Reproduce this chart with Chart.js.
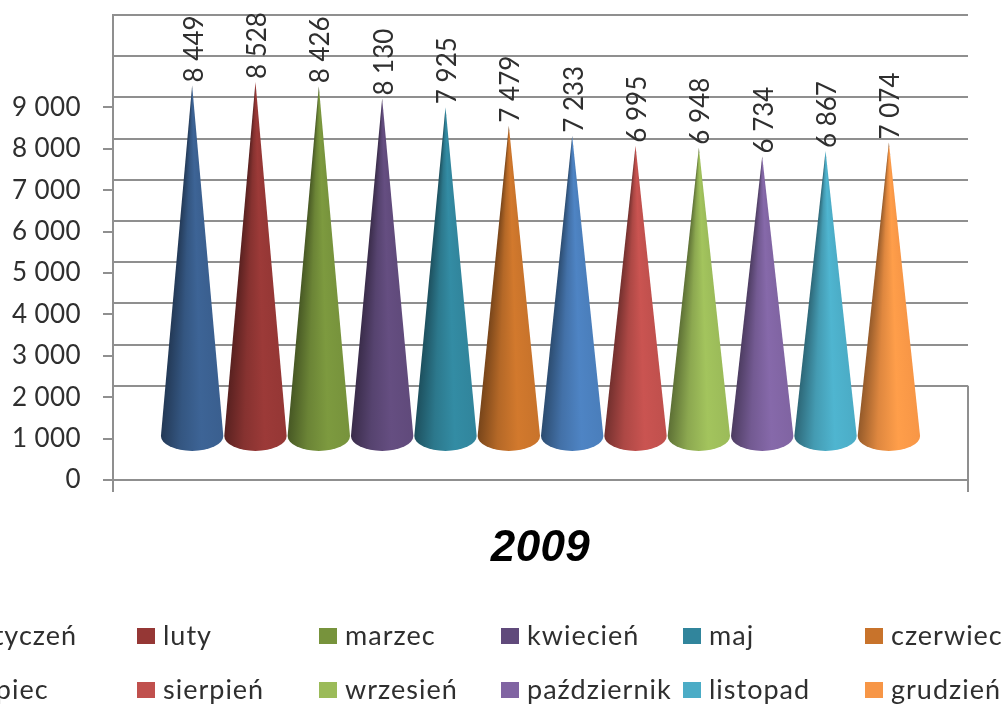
<!DOCTYPE html>
<html lang="pl">
<head>
<meta charset="utf-8">
<title>2009</title>
<script src="https://cdn.jsdelivr.net/npm/chart.js@4"></script>
<style>
  html, body { margin: 0; background: #fff; overflow: hidden; }
  canvas { display: block; filter: blur(0.5px); }
</style>
</head>
<body>
<canvas id="chart" width="1003" height="704"></canvas>
<script>
const categories = ['2009'];
const months = ['styczeń', 'luty', 'marzec', 'kwiecień', 'maj', 'czerwiec', 'lipiec', 'sierpień', 'wrzesień', 'październik', 'listopad', 'grudzień'];
const values = [8449, 8528, 8426, 8130, 7925, 7479, 7233, 6995, 6948, 6734, 6867, 7074];
const colors = ['#3a5f8f', '#953735', '#77933c', '#604a7b', '#31859c', '#c8732b', '#4a7ebb', '#c0504d', '#9bbb59', '#8064a2', '#4bacc6', '#f79646'];
const yTicks = [0, 1000, 2000, 3000, 4000, 5000, 6000, 7000, 8000, 9000];

const LINE = '#8f8f8f';
const TEXT = '#2f2f2f';

function formatNumber(v) {
  return String(v).replace(/\B(?=(\d{3})+$)/g, ' ');
}

function shade(hex, k) {
  const n = parseInt(hex.slice(1), 16);
  const ch = [n >> 16, (n >> 8) & 255, n & 255].map((c) => Math.min(255, Math.round(c * k)));
  return `rgb(${ch[0]}, ${ch[1]}, ${ch[2]})`;
}

// słupki rysowane jako stożki, pozycje biorą się ze skali
const conePlugin = {
  id: 'cones',
  beforeDraw(chart) {
    chart.ctx.letterSpacing = '0.4px';
  },
  beforeDatasetsDraw(chart) {
    // prawa krawędź podłogi
    const { ctx, chartArea, scales } = chart;
    ctx.save();
    ctx.strokeStyle = LINE;
    ctx.lineWidth = 2;
    ctx.beginPath();
    ctx.moveTo(chartArea.right, scales.wall.getPixelForValue(0));
    ctx.lineTo(chartArea.right, chartArea.bottom);
    ctx.stroke();
    ctx.restore();
  },
  beforeDatasetDraw(chart, args) {
    const { ctx } = chart;
    const bar = chart.getDatasetMeta(args.index).data[0];
    const hw = bar.width / 2;
    const ry = 15;
    const height = bar.base - bar.y;
    const spread = Math.atan(hw / height);
    const pad = 0.02;
    const full = Math.PI * 2;
    const color = colors[args.index];

    const grad = ctx.createConicGradient(Math.PI / 2 - spread - pad, bar.x, bar.y);
    const at = (t) => (pad + t * 2 * spread) / full;
    grad.addColorStop(0, shade(color, 1.0));
    grad.addColorStop(at(0), shade(color, 1.0));
    grad.addColorStop(at(0.35), shade(color, 1.05));
    grad.addColorStop(at(0.68), shade(color, 0.9));
    grad.addColorStop(at(1), shade(color, 0.6));
    grad.addColorStop(1, shade(color, 0.6));

    ctx.save();
    ctx.fillStyle = grad;
    ctx.beginPath();
    ctx.moveTo(bar.x, bar.y);
    ctx.lineTo(bar.x + hw, bar.base);
    ctx.ellipse(bar.x, bar.base, hw, ry, 0, 0, Math.PI);
    ctx.closePath();
    ctx.fill();
    ctx.restore();
    return false;
  },
  afterDatasetsDraw(chart) {
    const { ctx } = chart;
    ctx.save();
    ctx.font = '26px Lato';
    ctx.letterSpacing = '0px';
    ctx.fillStyle = TEXT;
    ctx.textAlign = 'left';
    ctx.textBaseline = 'middle';
    chart.data.datasets.forEach((ds, i) => {
      const bar = chart.getDatasetMeta(i).data[0];
      ctx.save();
      ctx.translate(bar.x + 2, bar.y - 3);
      ctx.rotate(-Math.PI / 2);
      ctx.fillText(formatNumber(ds.data[0]), 0, 0);
      ctx.restore();
    });
    ctx.restore();
  },
  afterDraw(chart) {
    // legenda w dwóch rzędach, pierwsza kolumna wychodzi poza kadr
    const { ctx } = chart;
    ctx.save();
    ctx.font = '27px Lato';
    ctx.letterSpacing = '1px';
    ctx.textAlign = 'left';
    ctx.textBaseline = 'alphabetic';
    chart.data.datasets.forEach((ds, i) => {
      const x = -45 + 182 * (i % 6);
      const y = i < 6 ? 628 : 682;
      ctx.fillStyle = ds.backgroundColor;
      ctx.fillRect(x, y, 18, 16);
      ctx.fillStyle = TEXT;
      ctx.fillText(ds.label, x + 26, y + 17);
    });
    ctx.restore();
  },
};

new Chart(document.getElementById('chart').getContext('2d'), {
  type: 'bar',
  data: {
    labels: categories,
    datasets: months.map((label, i) => ({
      label,
      data: [values[i]],
      backgroundColor: colors[i],
      yAxisID: 'cone',
    })),
  },
  options: {
    responsive: false,
    animation: false,
    categoryPercentage: 0.889,
    barPercentage: 0.985,
    layout: { padding: { top: 15, right: 35, left: 0, bottom: 0 } },
    plugins: {
      legend: { display: false },
      tooltip: { enabled: false },
    },
    scales: {
      x: {
        afterFit(scale) {
          scale.height = 224;
          scale.paddingLeft = 0;
          scale.paddingRight = 0;
        },
        grid: { drawOnChartArea: false, color: LINE, lineWidth: 2, tickLength: 12 },
        border: { color: LINE, width: 2 },
        ticks: { display: false },
        title: {
          display: true,
          text: categories[0],
          color: '#000',
          font: { family: '"Liberation Sans"', size: 44, weight: 'bold', style: 'italic' },
          padding: { top: 0, bottom: 129 },
        },
      },
      y: {
        position: 'left',
        min: 0,
        max: 11232,
        afterFit(scale) {
          scale.width = 113;
          scale.paddingTop = 0;
          scale.paddingBottom = 0;
        },
        afterBuildTicks(scale) { scale.ticks = yTicks.map((value) => ({ value })); },
        grid: { drawOnChartArea: false, color: LINE, lineWidth: 2, tickLength: 10 },
        border: { color: LINE, width: 2 },
        ticks: {
          color: TEXT,
          font: { family: 'Lato', size: 26 },
          padding: 22,
          callback: (v) => formatNumber(v),
        },
      },
      // tylna ściana wykresu 3D
      wall: {
        position: 'left',
        min: -2286,
        max: 9000,
        afterFit(scale) {
          scale.width = 0;
          scale.paddingTop = 0;
          scale.paddingBottom = 0;
        },
        afterBuildTicks(scale) { scale.ticks = yTicks.map((value) => ({ value })); },
        grid: { color: LINE, lineWidth: 2, drawTicks: false },
        border: { display: false },
        ticks: { display: false },
      },
      // skala stożków, podstawa leży nad osią
      cone: {
        display: false,
        min: -1060,
        max: 10145,
      },
    },
  },
  plugins: [conePlugin],
});
</script>
</body>
</html>
